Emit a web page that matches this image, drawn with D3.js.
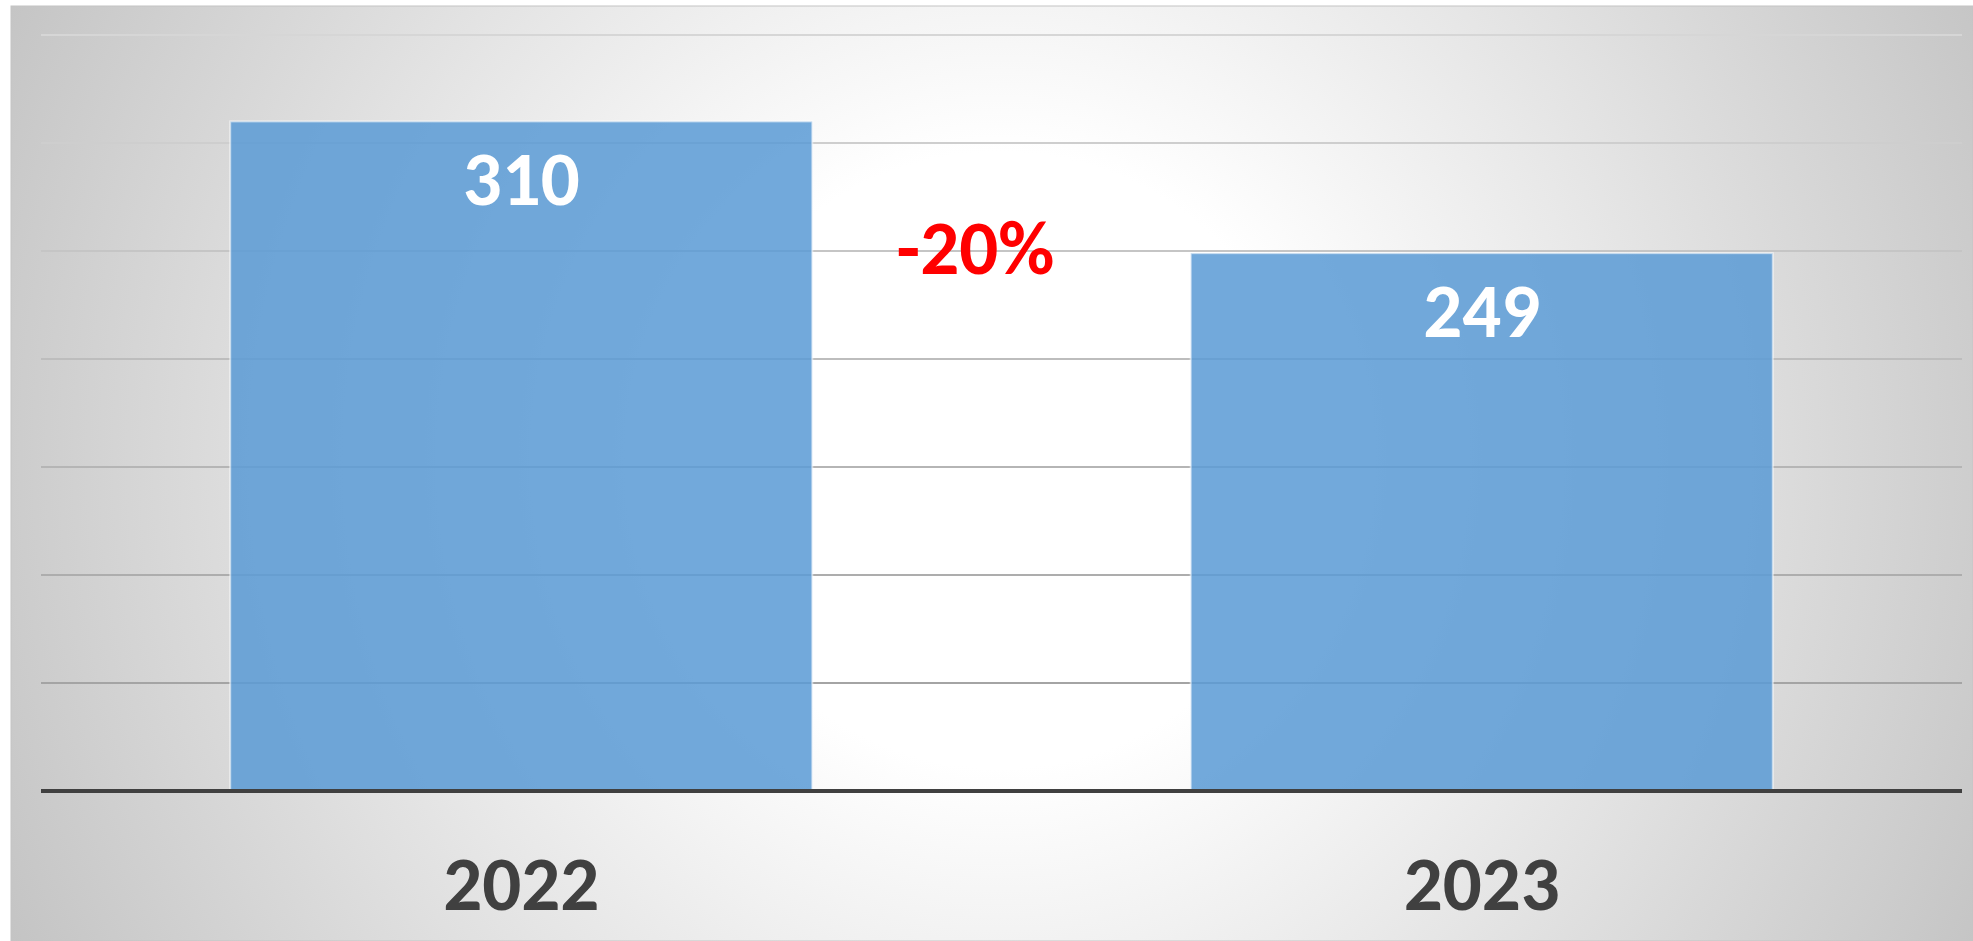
<!DOCTYPE html>
<html>
<head>
<meta charset="utf-8">
<script src="https://cdn.jsdelivr.net/npm/d3@7"></script>
<style>
  html, body { margin: 0; padding: 0; background: #fff; }
  svg { display: block; }
  text { font-family: Carlito, Lato, "Open Sans", sans-serif; font-weight: 700; }
</style>
</head>
<body>
<script>
const years = ['2022', '2023'];
const values = [310, 249];
const changeLabel = '-20%';
const gridTicks = [50, 100, 150, 200, 250, 300, 350];

const width = 1973, height = 941;
const plot = {left: 41, right: 1962, top: 35, bottom: 791};

const svg = d3.select('body')
  .append('svg')
  .attr('width', width)
  .attr('height', height)
  .attr('xmlns', 'http://www.w3.org/2000/svg');

// background: round radial fade from white to grey
const defs = svg.append('defs');
const bg = defs.append('radialGradient')
  .attr('id', 'bg')
  .attr('gradientUnits', 'userSpaceOnUse')
  .attr('cx', 1000)
  .attr('cy', 460)
  .attr('r', 1100);
bg.append('stop').attr('offset', '0%').attr('stop-color', '#ffffff');
bg.append('stop').attr('offset', '28%').attr('stop-color', '#ffffff');
bg.append('stop').attr('offset', '100%').attr('stop-color', '#c4c4c4');

svg.append('rect')
  .attr('x', 11)
  .attr('y', 6)
  .attr('width', width - 11)
  .attr('height', height - 6)
  .attr('fill', 'url(#bg)')
  .attr('stroke', '#c4c4c4')
  .attr('stroke-width', 1);

const x = d3.scaleBand()
  .domain(years)
  .range([plot.left, plot.right])
  .paddingInner(0.394)
  .paddingOuter(0.197);

const y = d3.scaleLinear()
  .domain([0, 350])
  .range([plot.bottom, plot.top]);

// gridlines get darker towards the bottom
const gridColor = d3.scaleLinear()
  .domain([plot.top, plot.bottom])
  .range(['#d6d6d6', '#9c9c9c']);

svg.append('g')
  .selectAll('line')
  .data(gridTicks)
  .enter()
  .append('line')
  .attr('x1', plot.left)
  .attr('x2', plot.right)
  .attr('y1', d => y(d))
  .attr('y2', d => y(d))
  .attr('stroke', d => gridColor(y(d)))
  .attr('stroke-width', 2);

const data = years.map((yr, i) => ({year: yr, value: values[i]}));

const bars = svg.selectAll('.bar')
  .data(data)
  .enter()
  .append('g')
  .attr('class', 'bar');

bars.append('rect')
  .attr('x', d => x(d.year))
  .attr('y', d => y(d.value))
  .attr('width', x.bandwidth())
  .attr('height', d => y(0) - y(d.value))
  .attr('fill', '#5b9bd5')
  .attr('fill-opacity', 0.86)
  .attr('stroke', '#ffffff')
  .attr('stroke-opacity', 0.55)
  .attr('stroke-width', 2);

bars.append('text')
  .attr('x', d => x(d.year) + x.bandwidth() / 2)
  .attr('y', d => y(d.value) + 84)
  .attr('text-anchor', 'middle')
  .attr('font-size', 77)
  .attr('fill', '#ffffff')
  .text(d => d.value);

// x axis line
svg.append('line')
  .attr('x1', plot.left)
  .attr('x2', plot.right)
  .attr('y1', y(0))
  .attr('y2', y(0))
  .attr('stroke', '#404040')
  .attr('stroke-width', 4);

svg.append('g')
  .selectAll('text')
  .data(years)
  .enter()
  .append('text')
  .attr('x', d => x(d) + x.bandwidth() / 2)
  .attr('y', 910)
  .attr('text-anchor', 'middle')
  .attr('font-size', 77)
  .attr('fill', '#404040')
  .text(d => d);

// change between the years
let midX = (x(years[0]) + x(years[1]) + x.bandwidth()) / 2;
svg.append('text')
  .attr('x', midX - 26)
  .attr('y', y(values[1]) + 21)
  .attr('text-anchor', 'middle')
  .attr('font-size', 77)
  .attr('fill', '#ff0000')
  .text(changeLabel);
</script>
</body>
</html>
